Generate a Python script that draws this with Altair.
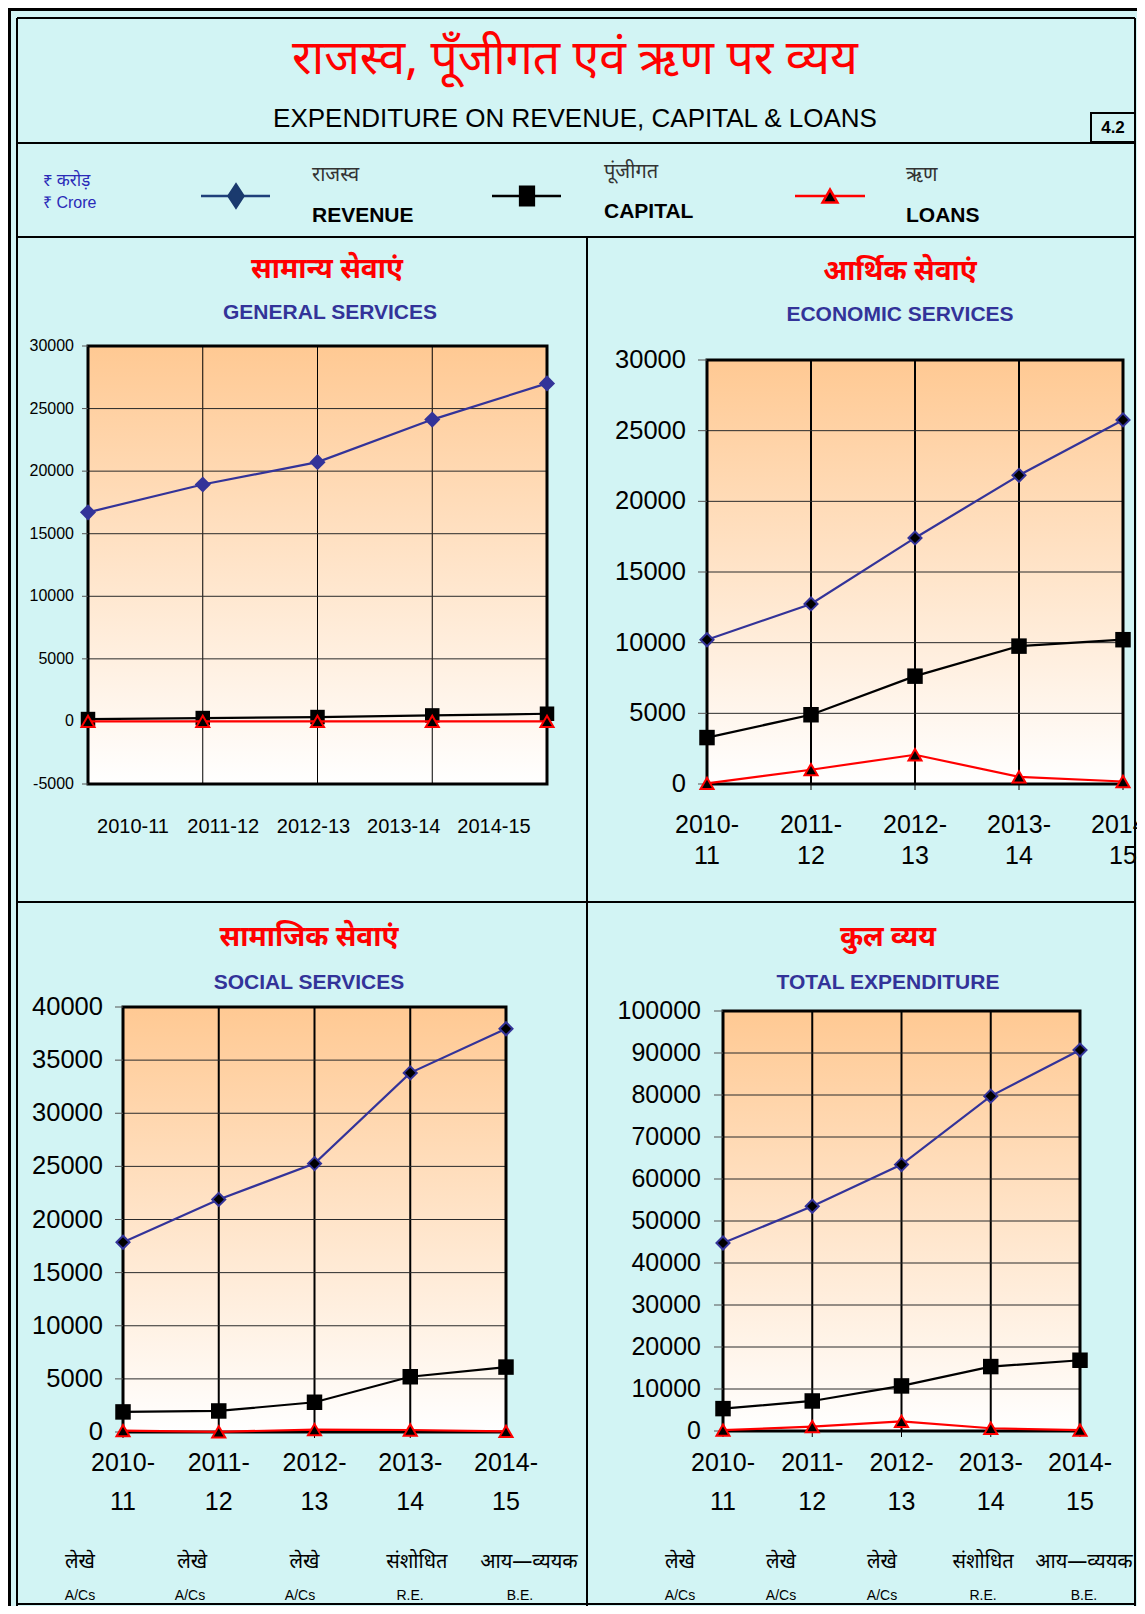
import altair as alt
import pandas as pd

W, H = 1129, 1598
BG = "#d2f4f4"
HINDI = "Noto Sans Devanagari, Lohit Devanagari, FreeSans, Mukta, Noto Sans, sans-serif"
LAT = "Liberation Sans, Arial, sans-serif"

years = ["2010-11", "2011-12", "2012-13", "2013-14", "2014-15"]

gen_rev = [16710, 18930, 20720, 24120, 27010]
gen_cap = [190, 270, 350, 480, 615]
gen_loan = [12, 9, 11, 8, 10]

eco_rev = [10210, 12740, 17410, 21840, 25760]
eco_cap = [3285, 4900, 7630, 9755, 10210]
eco_loan = [50, 1010, 2070, 505, 177]

soc_rev = [17860, 21890, 25260, 33800, 37950]
soc_cap = [1890, 1980, 2800, 5200, 6110]
soc_loan = [125, 20, 220, 190, 60]

tot_rev = [44750, 53500, 63430, 79730, 90700]
tot_cap = [5330, 7150, 10730, 15340, 16850]
tot_loan = [190, 1030, 2270, 650, 220]

notes_hi = ["लेखे", "लेखे", "लेखे", "संशोधित", "आय—व्ययक"]
notes_en = ["A/Cs", "A/Cs", "A/Cs", "R.E.", "B.E."]

REV_C = "#333399"
CAP_C = "#000000"
LOAN_C = "#ff0000"

grad = alt.Gradient(
    gradient="linear",
    stops=[alt.GradientStop(color="#ffc993", offset=0),
           alt.GradientStop(color="#ffffff", offset=1)],
    x1=0, x2=0, y1=0, y2=1,
)

dummy = pd.DataFrame({"a": [0]})


def txt(s, x, y, size, color="black", weight="normal", font=LAT, align="center"):
    return alt.Chart(pd.DataFrame({"t": [s]})).mark_text(
        fontSize=size, color=color, fontWeight=weight, font=font,
        align=align, baseline="middle",
    ).encode(x=alt.value(x), y=alt.value(y), text="t:N")


def hline(xa, xb, y, w=2, color="black"):
    return alt.Chart(dummy).mark_rule(color=color, strokeWidth=w).encode(
        x=alt.value(xa), x2=alt.value(xb), y=alt.value(y))


def vline(x, ya, yb, w=2):
    return alt.Chart(dummy).mark_rule(color="black", strokeWidth=w).encode(
        x=alt.value(x), y=alt.value(ya), y2=alt.value(yb))


def panel(rev, cap, loan, lo, hi, step, x0, x1, top, bot, gen=False,
          lh=32, xl_mid=0, yfs=25, ylab_x=0, ytick=9):
    xs = alt.Scale(type="point", domain=years, range=[x0, x1], padding=0)
    ys = alt.Scale(domain=[lo, hi], range=[bot, top], nice=False, zero=False)
    ticks = list(range(lo, hi + 1, step))
    X = lambda f: alt.X(f, scale=xs, axis=None)
    Y = lambda f: alt.Y(f, scale=ys, axis=None)

    box = pd.DataFrame({"xa": [years[0]], "xb": [years[-1]], "ya": [hi], "yb": [lo]})
    bg = alt.Chart(box).mark_rect(fill=grad, strokeWidth=0).encode(
        x=X("xa:O"), x2="xb", y=Y("ya:Q"), y2="yb")
    vg = pd.DataFrame({"year": years, "ya": [hi] * 5, "yb": [lo] * 5})
    vgrid = alt.Chart(vg).mark_rule(color="black", strokeWidth=1 if gen else 2).encode(
        x=X("year:O"), y=Y("ya:Q"), y2="yb")
    hg = pd.DataFrame({"v": ticks, "lab": [str(t) for t in ticks],
                       "xa": [years[0]] * len(ticks), "xb": [years[-1]] * len(ticks)})
    hgrid = alt.Chart(hg).mark_rule(color="#2a2a2a", strokeWidth=1).encode(
        x=X("xa:O"), x2="xb", y=Y("v:Q"))
    border = alt.Chart(box).mark_rect(fill="white", fillOpacity=0, stroke="black",
                                      strokeWidth=3).encode(
        x=X("xa:O"), x2="xb", y=Y("ya:Q"), y2="yb")
    # y axis: ticks and labels
    yt = alt.Chart(hg).mark_rule(color="#555555", strokeWidth=1).encode(
        y=Y("v:Q"), x=alt.value(x0 - ytick), x2=alt.value(x0))
    yl = alt.Chart(hg).mark_text(fontSize=yfs, font=LAT, color="black",
                                 align="right", baseline="middle").encode(
        y=Y("v:Q"), x=alt.value(ylab_x), text="lab:N")
    layers = [bg, vgrid, hgrid, border, yt, yl]

    if not gen:
        xd = pd.DataFrame({"year": years, "lab": [y[:5] + "\n" + y[5:] for y in years]})
        xt = alt.Chart(xd).mark_rule(color="black", strokeWidth=1).encode(
            x=X("year:O"), y=alt.value(bot), y2=alt.value(bot + 6))
        xl = alt.Chart(xd).mark_text(fontSize=25, font=LAT, color="black",
                                     baseline="middle", lineBreak="\n",
                                     lineHeight=lh).encode(
            x=X("year:O"), y=alt.value(xl_mid), text="lab:N")
        layers += [xt, xl]

    def series(vals, color, mk):
        d = pd.DataFrame({"year": years, "v": vals})
        enc = dict(x=X("year:O"), y=Y("v:Q"))
        ln = alt.Chart(d).mark_line(color=color, strokeWidth=2.2).encode(**enc)
        pt = alt.Chart(d).mark_point(opacity=1, filled=True, **mk).encode(**enc)
        return [ln, pt]

    if gen:
        rmk = dict(shape="diamond", size=260, fill=REV_C, stroke=REV_C, strokeWidth=0)
    else:
        rmk = dict(shape="diamond", size=170, fill="black", stroke=REV_C, strokeWidth=2)
    layers += series(rev, REV_C, rmk)
    layers += series(cap, CAP_C, dict(shape="square", size=240 if not gen else 210,
                                      fill="black", stroke="black", strokeWidth=0))
    layers += series(loan, LOAN_C, dict(shape="triangle-up", size=170, fill="black",
                                        stroke=LOAN_C, strokeWidth=2))
    return alt.layer(*layers)


gen = panel(gen_rev, gen_cap, gen_loan, -5000, 30000, 5000, 80, 539, 338, 776,
            gen=True, yfs=16, ylab_x=66, ytick=6)
eco = panel(eco_rev, eco_cap, eco_loan, 0, 30000, 5000, 699, 1115, 352, 776,
            lh=31, xl_mid=817, yfs=25.5, ylab_x=678, ytick=9)
soc = panel(soc_rev, soc_cap, soc_loan, 0, 40000, 5000, 115, 498, 999, 1424,
            lh=39, xl_mid=1455, yfs=25.5, ylab_x=95, ytick=8)
tot = panel(tot_rev, tot_cap, tot_loan, 0, 100000, 10000, 715, 1072, 1003, 1423,
            lh=39, xl_mid=1455, yfs=25, ylab_x=693, ytick=9)

gen_xl = alt.Chart(pd.DataFrame({"year": years})).mark_text(
    fontSize=20, font=LAT, color="black", baseline="middle").encode(
    x=alt.X("year:O", scale=alt.Scale(type="point", domain=years, range=[125, 486], padding=0), axis=None),
    y=alt.value(819), text="year:N")


def notes(labels, xa, xb, y, size, font):
    return alt.Chart(pd.DataFrame({"lab": labels, "i": list(range(5))})).mark_text(
        fontSize=size, font=font, color="black", baseline="middle").encode(
        x=alt.X("i:O", scale=alt.Scale(type="point", domain=list(range(5)), range=[xa, xb], padding=0), axis=None),
        y=alt.value(y), text="lab:N")


decor = [
    # frame
    vline(1, 0, H, 4), hline(0, W, 1, 4),
    vline(9, 10, H, 2), hline(9, 1127, 10, 2),
    vline(1127, 10, H, 2), hline(9, 1127, 1596, 2),
    hline(9, 1127, 135, 2), hline(9, 1127, 229, 2),
    vline(579, 229, H, 2), hline(9, 1127, 894, 2),
    # header
    txt("राजस्व, पूँजीगत एवं ऋण पर व्यय", 567, 52, 48, "#ff0000", font=HINDI),
    txt("EXPENDITURE ON REVENUE, CAPITAL & LOANS", 567, 111, 26),
    alt.Chart(dummy).mark_rect(fill="white", fillOpacity=0, stroke="black", strokeWidth=2).encode(
        x=alt.value(1083), x2=alt.value(1127), y=alt.value(105), y2=alt.value(134)),
    txt("4.2", 1105, 120, 17, weight="bold"),
    # legend
    txt("₹ करोड़", 35, 173, 17, "#2a2ab8", font=HINDI, align="left"),
    txt("₹ Crore", 35, 195, 16, "#2a2ab8", align="left"),
    hline(193, 262, 188, 2.5, "#1f3f7a"),
    alt.Chart(dummy).mark_point(shape="M0,-1L0.65,0L0,1L-0.65,0Z", size=576, filled=True,
                                fill="#1a3a6e", stroke="#1a3a6e", opacity=1).encode(
        x=alt.value(228), y=alt.value(188)),
    txt("राजस्व", 304, 167, 20, "#333333", font=HINDI, align="left"),
    txt("REVENUE", 304, 208, 21, weight="bold", align="left"),
    hline(484, 553, 188, 2.5),
    alt.Chart(dummy).mark_point(shape="M-0.75,-1H0.75V1H-0.75Z", size=361, filled=True,
                                fill="black", stroke="black", opacity=1).encode(
        x=alt.value(519), y=alt.value(188)),
    txt("पूंजीगत", 596, 164, 20, "#333333", font=HINDI, align="left"),
    txt("CAPITAL", 596, 204, 21, weight="bold", align="left"),
    hline(787, 857, 188, 2.5, LOAN_C),
    alt.Chart(dummy).mark_point(shape="triangle-up", size=220, filled=True,
                                fill="black", stroke=LOAN_C, strokeWidth=2.5, opacity=1).encode(
        x=alt.value(822), y=alt.value(188)),
    txt("ऋण", 898, 167, 20, "#333333", font=HINDI, align="left"),
    txt("LOANS", 898, 208, 21, weight="bold", align="left"),
    # panel titles
    txt("सामान्य सेवाएं", 319, 262, 28, "#ff0000", weight="bold", font=HINDI),
    txt("GENERAL SERVICES", 322, 305, 21, REV_C, weight="bold"),
    txt("आर्थिक सेवाएं", 892, 264, 28, "#ff0000", weight="bold", font=HINDI),
    txt("ECONOMIC SERVICES", 892, 307, 21, REV_C, weight="bold"),
    txt("सामाजिक सेवाएं", 301, 930, 28, "#ff0000", weight="bold", font=HINDI),
    txt("SOCIAL  SERVICES", 301, 975, 21, REV_C, weight="bold"),
    txt("कुल व्यय", 880, 930, 28, "#ff0000", weight="bold", font=HINDI),
    txt("TOTAL EXPENDITURE", 880, 975, 21, REV_C, weight="bold"),
]

chart = alt.layer(
    *decor,
    gen, gen_xl, eco, soc, tot,
    notes(notes_hi, 72, 521, 1554, 20, HINDI),
    notes(notes_en, 72, 512, 1588, 14, LAT),
    notes(notes_hi, 672, 1076, 1554, 20, HINDI),
    notes(notes_en, 672, 1076, 1588, 14, LAT),
).resolve_scale(x="independent", y="independent").properties(
    width=W, height=H, padding=0, background=BG,
    autosize=alt.AutoSizeParams(type="none"),
).configure_view(stroke=None)

chart.save("out.html", embed_options={"renderer": "svg", "actions": False})
